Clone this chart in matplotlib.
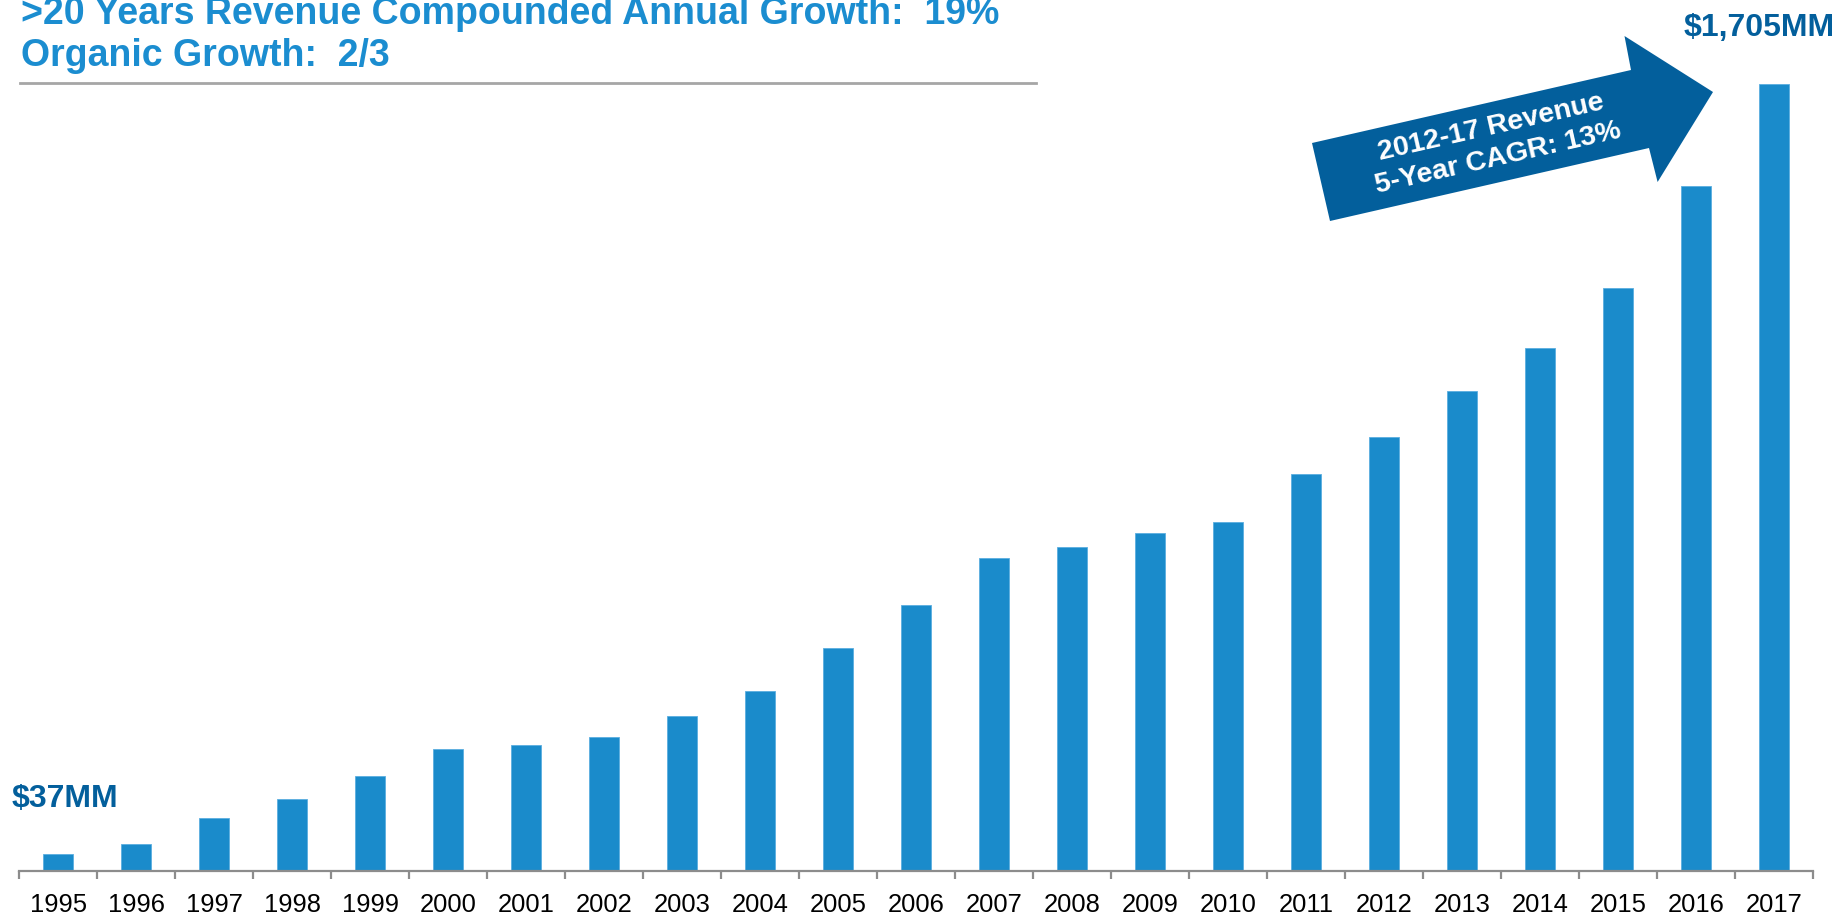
import matplotlib
matplotlib.use("Agg")
import matplotlib.pyplot as plt
import matplotlib.patches as mpatches
from matplotlib.ticker import FixedLocator
import numpy as np

# Revenue by year ($MM)
years = [str(y) for y in range(1995, 2018)]
revenue = [37, 59, 115, 155, 206, 265, 273, 291, 336, 390, 484, 576,
           678, 701, 732, 757, 859, 941, 1040, 1132, 1264, 1484, 1705]

title_lines = [">20 Years Revenue Compounded Annual Growth:  19%",
               "Organic Growth:  2/3"]
first_label = "$37MM"
last_label = "$1,705MM"
arrow_text = "2012-17 Revenue\n5-Year CAGR: 13%"

BAR_BLUE = "#1a8bcb"
TITLE_BLUE = "#1b8dd0"
DARK_BLUE = "#035f9c"
AXIS_GREY = "#8c8c8c"

W, H = 1846, 915
plt.rcParams["font.family"] = ["Liberation Sans", "DejaVu Sans"]

fig = plt.figure(figsize=(W / 100, H / 100), dpi=100)


def fx(px):
    return px / W


def fy(py):
    # py measured from the top of the image
    return 1 - py / H


# plot area in image pixels: x 19..1813, baseline at y=871, top at y=0
ax = fig.add_axes([fx(19), fy(871), fx(1813) - fx(19), fy(0) - fy(871)])
x = np.arange(len(years))
ax.bar(x, revenue, width=0.385, color=BAR_BLUE, edgecolor="#5aaee0", linewidth=0.6)
ax.set_xlim(-0.5, len(years) - 0.5)
ax.set_ylim(0, revenue[-1] * 871 / (871 - 84))

for side in ("top", "right", "left"):
    ax.spines[side].set_visible(False)
ax.spines["bottom"].set_color(AXIS_GREY)
ax.spines["bottom"].set_linewidth(1.6)
ax.set_yticks([])
ax.set_xticks(x)
ax.set_xticklabels(years, fontsize=18.4, color="black")
ax.xaxis.set_minor_locator(FixedLocator(np.arange(-0.5, len(years), 1.0)))
ax.tick_params(axis="x", which="major", length=0, pad=16)
ax.tick_params(axis="x", which="minor", length=5.5, width=1.6, color=AXIS_GREY)

# Header (first line runs off the top edge, as on the slide)
fig.text(fx(21), fy(23.5), title_lines[0], fontsize=27, fontweight="bold",
         color=TITLE_BLUE, ha="left", va="baseline")
fig.text(fx(21), fy(66), title_lines[1], fontsize=27, fontweight="bold",
         color=TITLE_BLUE, ha="left", va="baseline")
fig.add_artist(plt.Line2D([fx(20), fx(1036)], [fy(83.3), fy(83.3)],
                          color="#a6a6a6", linewidth=2))

# End-point labels
fig.text(fx(11.7), fy(806.7), first_label, fontsize=23, fontweight="bold",
         color=DARK_BLUE, ha="left", va="baseline")
fig.text(fx(1835), fy(36), last_label, fontsize=23, fontweight="bold",
         color=DARK_BLUE, ha="right", va="baseline")

# CAGR arrow
arrow_px = [(1312, 143), (1631, 70), (1624.5, 36), (1713, 92),
            (1657.6, 182), (1649, 148), (1330, 221)]
fig.add_artist(mpatches.Polygon([(fx(a), fy(b)) for a, b in arrow_px],
                                closed=True, facecolor=DARK_BLUE,
                                edgecolor="none", transform=fig.transFigure))
fig.text(fx(1495), fy(143), arrow_text, fontsize=20.5, fontweight="bold",
         color="white", ha="center", va="center", rotation=12.8,
         rotation_mode="anchor", linespacing=1.3, multialignment="center")

fig.savefig("out.png", dpi=100)
